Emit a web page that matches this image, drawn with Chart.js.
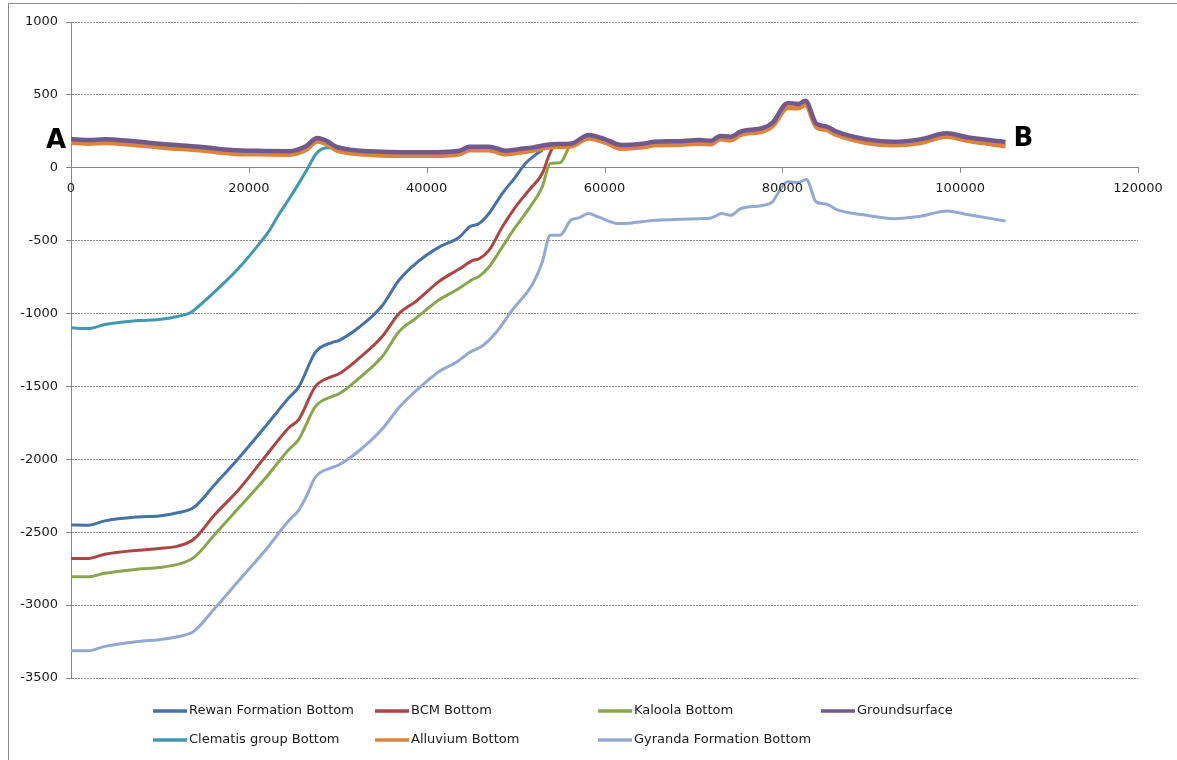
<!DOCTYPE html>
<html>
<head>
<meta charset="utf-8">
<script src="https://cdn.jsdelivr.net/npm/chart.js@4.4.1/dist/chart.umd.min.js"></script>
<style>
  body { margin: 0; background: #fff; }
  canvas { display: block; }
</style>
</head>
<body>
<canvas id="chart" width="1177" height="760"></canvas>
<script>
// distance along section (m) and elevation (m) per horizon
const rewanX = [0, 1950, 3800, 7600, 9900, 12100, 13800, 16200, 18900, 21900, 24500, 25600, 27500, 29400, 30100, 32400, 35000, 36900, 39200, 41400, 43700, 44800, 45900, 47000, 48500, 50000, 51100, 52200, 53000];
const rewanY = [-2450, -2452, -2422, -2395, -2388, -2365, -2331, -2171, -1989, -1772, -1578, -1505, -1265, -1197, -1185, -1094, -946, -770, -635, -544, -475, -406, -383, -314, -177, -62, 30, 87, 120];

const bcmX = [0, 1950, 3800, 7600, 9900, 12100, 13800, 16200, 18900, 21900, 24500, 25600, 27500, 29400, 30100, 32400, 35000, 36900, 38800, 41400, 43700, 45200, 45900, 47000, 48500, 50000, 51500, 53000, 53700, 54100];
const bcmY = [-2680, -2680, -2651, -2623, -2612, -2594, -2548, -2377, -2205, -1977, -1783, -1728, -1500, -1431, -1415, -1306, -1157, -1000, -916, -779, -693, -635, -624, -567, -406, -268, -154, -39, 76, 133];

const kaloolaX = [0, 1950, 3800, 7600, 9900, 12100, 13800, 16200, 18900, 21900, 24500, 25600, 27500, 29400, 30100, 32400, 35000, 36900, 38800, 41400, 43300, 45200, 45900, 47000, 48500, 50000, 51500, 53000, 53900, 55000, 56000];
const kaloolaY = [-2806, -2806, -2781, -2753, -2742, -2719, -2674, -2514, -2331, -2126, -1932, -1865, -1637, -1568, -1552, -1443, -1295, -1123, -1032, -906, -840, -765, -745, -681, -544, -406, -280, -131, 30, 34, 140];

const groundX = [0, 2000, 3800, 6800, 10600, 14400, 18100, 21000, 24500, 26400, 27700, 28800, 29800, 31700, 35000, 38000, 41000, 43700, 44800, 47000, 48900, 50400, 52000, 54100, 56300, 58200, 60100, 61900, 64500, 65600, 68000, 70700, 72000, 73000, 74200, 75300, 77900, 78900, 80600, 81800, 82600, 83800, 85000, 86100, 89500, 92500, 95500, 98500, 100800, 105100];
const groundY = [197, 190, 195, 183, 161, 145, 122, 116, 114, 148, 205, 183, 145, 122, 110, 107, 107, 117, 145, 145, 117, 128, 140, 161, 167, 225, 195, 156, 167, 179, 182, 190, 186, 218, 213, 248, 275, 310, 443, 438, 459, 305, 282, 248, 195, 179, 195, 236, 209, 177];

const clematisX = [0, 1950, 3800, 7600, 9900, 12100, 13400, 14350, 16600, 18850, 21100, 22240, 23360, 24830, 25970, 26760, 27500, 28240, 29000, 29400];
const clematisY = [-1098, -1103, -1075, -1048, -1041, -1018, -995, -950, -826, -689, -527, -436, -322, -185, -71, 11, 91, 130, 137, 135];

const alluviumX = groundX;
const alluviumY = [172, 165, 170, 158, 136, 120, 97, 92, 90, 122, 180, 160, 120, 97, 85, 82, 82, 92, 120, 120, 92, 104, 118, 142, 148, 200, 172, 130, 142, 155, 157, 165, 162, 195, 188, 225, 252, 285, 410, 408, 430, 280, 258, 225, 170, 155, 170, 212, 185, 148];

const gyrandaX = [0, 1950, 3800, 7600, 9900, 12100, 13800, 16200, 18900, 21900, 24500, 25600, 26500, 27500, 29400, 30100, 32400, 35000, 36900, 38800, 41400, 43300, 44800, 46300, 47800, 49700, 51900, 53000, 53900, 55000, 56200, 57100, 58200, 59300, 61600, 63100, 65700, 68000, 70700, 72000, 73200, 74200, 75300, 77900, 78900, 79400, 80600, 81800, 82700, 83800, 85000, 86100, 89500, 92500, 95500, 98500, 100800, 105100];
const gyrandaY = [-3313, -3313, -3283, -3249, -3237, -3215, -3180, -3020, -2830, -2620, -2420, -2350, -2250, -2121, -2055, -2039, -1941, -1792, -1644, -1530, -1397, -1336, -1267, -1221, -1130, -970, -799, -647, -463, -463, -360, -344, -314, -337, -383, -378, -360, -355, -349, -344, -314, -326, -280, -257, -234, -185, -96, -101, -80, -234, -250, -287, -326, -349, -333, -296, -321, -365];

const xTicks = [0, 20000, 40000, 60000, 80000, 100000, 120000];
const yTicks = [-3500, -3000, -2500, -2000, -1500, -1000, -500, 0, 500, 1000];

const FONT = 'DejaVu Sans';

function pts(xs, ys) {
  return xs.map((x, i) => ({ x: x, y: ys[i] }));
}

function series(label, xs, ys, color, width, order) {
  return {
    label: label,
    data: pts(xs, ys),
    borderColor: color,
    backgroundColor: color,
    borderWidth: width,
    pointRadius: 0,
    cubicInterpolationMode: 'monotone',
    order: order
  };
}

const datasets = [
  series('Rewan Formation Bottom', rewanX, rewanY, '#4572A7', 3, 2),
  series('BCM Bottom', bcmX, bcmY, '#AA4643', 3, 2),
  series('Kaloola Bottom', kaloolaX, kaloolaY, '#89A54E', 3, 2),
  series('Groundsurface', groundX, groundY, '#71588F', 4.5, 0),
  series('Clematis group Bottom', clematisX, clematisY, '#4198AF', 3, 2),
  series('Alluvium Bottom', alluviumX, alluviumY, '#DB843D', 4.5, 1),
  series('Gyranda Formation Bottom', gyrandaX, gyrandaY, '#93A9CF', 3, 2)
];

// frame, x labels under the zero line, A/B labels and the excel style legend grid
const extras = {
  id: 'extras',
  beforeDraw(chart) {
    const ctx = chart.ctx;
    ctx.save();
    ctx.strokeStyle = '#8a8a8a';
    ctx.lineWidth = 1;
    ctx.beginPath();
    ctx.moveTo(8.5, 760);
    ctx.lineTo(8.5, 3.5);
    ctx.lineTo(1177, 3.5);
    ctx.stroke();
    ctx.restore();
  },
  afterDraw(chart) {
    const ctx = chart.ctx;
    const xs = chart.scales.x, ys = chart.scales.y;
    const y0 = ys.getPixelForValue(0);
    ctx.save();

    // x axis: tick marks and labels below the zero line
    ctx.strokeStyle = '#868686';
    ctx.lineWidth = 1;
    ctx.beginPath();
    xTicks.forEach(v => {
      const px = Math.round(xs.getPixelForValue(v)) + 0.5;
      ctx.moveTo(px, y0);
      ctx.lineTo(px, y0 + 5);
    });
    ctx.stroke();
    ctx.fillStyle = '#1a1a1a';
    ctx.font = '13px ' + FONT;
    ctx.textAlign = 'center';
    ctx.textBaseline = 'middle';
    xTicks.forEach(v => ctx.fillText(String(v), xs.getPixelForValue(v), y0 + 21));

    ctx.fillStyle = '#000';
    ctx.font = 'bold 26px ' + FONT;
    ctx.textBaseline = 'alphabetic';
    ctx.textAlign = 'center';
    ctx.fillText('A', chart.chartArea.left - 15, y0 - 20);
    ctx.textAlign = 'left';
    ctx.fillText('B', xs.getPixelForValue(106000), y0 - 22);

    // legend: 4 columns x 2 rows
    const cols = [153, 375, 598, 821];
    const rows = [711, 740];
    ctx.font = '13px ' + FONT;
    ctx.textBaseline = 'middle';
    chart.data.datasets.forEach((ds, i) => {
      const c = cols[i % 4], r = rows[Math.floor(i / 4)];
      ctx.strokeStyle = ds.borderColor;
      ctx.lineWidth = 3.5;
      ctx.beginPath();
      ctx.moveTo(c, r);
      ctx.lineTo(c + 34, r);
      ctx.stroke();
      ctx.fillStyle = '#1a1a1a';
      ctx.fillText(ds.label, c + 36, r);
    });
    ctx.restore();
  }
};

new Chart(document.getElementById('chart'), {
  type: 'line',
  data: { datasets: datasets },
  plugins: [extras],
  options: {
    responsive: false,
    animation: false,
    devicePixelRatio: 1,
    layout: { padding: { left: 8, top: 22, right: 39, bottom: 82 } },
    plugins: {
      legend: { display: false },
      tooltip: { enabled: false }
    },
    scales: {
      x: {
        type: 'linear',
        position: { y: 0 },
        min: 0,
        max: 120000,
        afterBuildTicks: s => { s.ticks = xTicks.map(v => ({ value: v })); },
        ticks: { display: false },
        grid: { display: false },
        border: { color: '#868686' }
      },
      y: {
        type: 'linear',
        min: -3500,
        max: 1000,
        afterBuildTicks: s => { s.ticks = yTicks.map(v => ({ value: v })); },
        afterFit: s => { s.width = 63; },
        ticks: { color: '#1a1a1a', font: { family: FONT, size: 13 }, padding: 8, callback: v => String(v) },
        grid: { color: '#8c8c8c', tickColor: '#868686', tickLength: 5 },
        border: { color: '#868686', dash: [2, 1] }
      }
    }
  }
});
</script>
</body>
</html>
